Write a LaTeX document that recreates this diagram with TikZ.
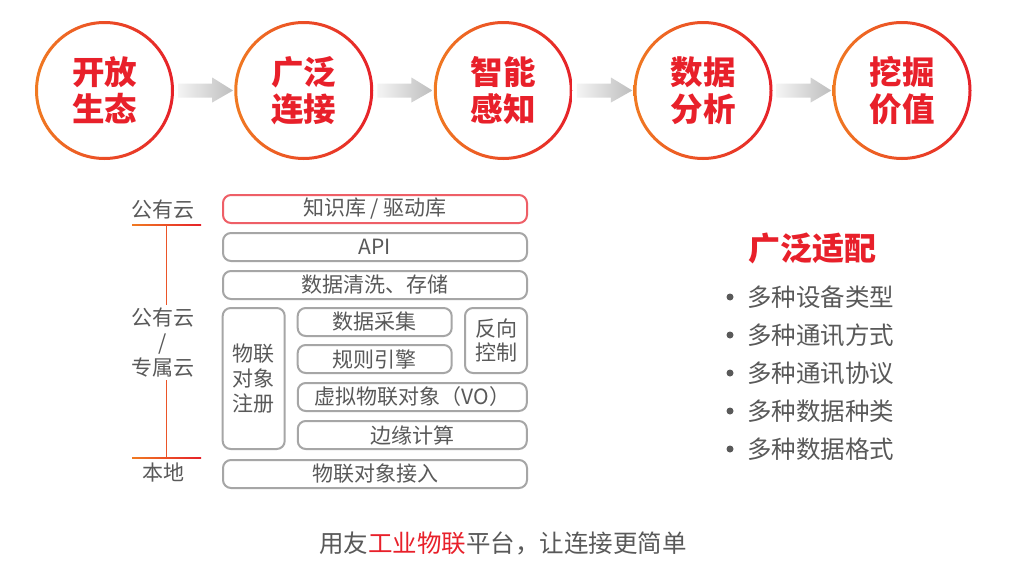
\documentclass[tikz,border=0pt]{standalone}
\usepackage{fontspec}
\setmainfont{Noto Sans CJK SC}
\usetikzlibrary{calc}
\definecolor{txtgray}{HTML}{595959}
\definecolor{boxgray}{HTML}{A6A6A6}
\definecolor{boxpink}{HTML}{EE5F67}
\definecolor{redT}{HTML}{E8202A}
\definecolor{ringO}{HTML}{F07A22}
\definecolor{ringR}{HTML}{E62129}
\definecolor{arrL}{HTML}{F4F4F4}
\definecolor{arrR}{HTML}{BEBEBE}
\definecolor{lineV}{HTML}{EB5528}
\begin{document}
\begin{tikzpicture}[x=1pt,y=-1pt,
  stage/.style={circle, minimum size=139pt, inner sep=0pt, align=center, text=redT,
    font=\bfseries\fontsize{32.5}{37}\selectfont},
  layer/.style={draw=boxgray, line width=2pt, rounded corners=8pt, inner sep=0pt,
    text=txtgray, font=\fontsize{21}{25}\selectfont, align=center, minimum height=28pt},
  sidelbl/.style={text=txtgray, font=\fontsize{21}{25}\selectfont, align=center, inner sep=0pt},
  itemtxt/.style={anchor=west, text=txtgray, font=\fontsize{24.5}{28}\selectfont, inner sep=0pt},
  dot/.style={circle, fill=txtgray, minimum size=7pt, inner sep=0pt},
  arrowshape/.style={left color=arrL, right color=arrR}
]
\useasboundingbox[fill=white] (0,0) rectangle (1010,562);

% stage circles
\foreach \n/\x/\t in {c1/104.5/{开放\\生态}, c2/303.75/{广泛\\连接}, c3/503.25/{智能\\感知}, c4/703/{数据\\分析}, c5/902/{挖掘\\价值}} {
  \shade[left color=ringO, right color=ringR, even odd rule]
    (\x,90.5) circle[radius=69.5] (\x,90.5) circle[radius=66.5];
  \node[stage] (\n) at (\x,90.5) {\t};
}
% arrows between stages
\foreach \a/\b in {c1/c2, c2/c3, c3/c4, c4/c5} {
  \shade[arrowshape]
    ($(\a.east)+(4,-7)$) -- ($(\a.east)+(38,-7)$) -- ($(\a.east)+(38,-13)$)
    -- ($(\b.west)+(-1,0)$) -- ($(\a.east)+(38,12)$) -- ($(\a.east)+(38,7)$)
    -- ($(\a.east)+(4,7)$) -- cycle;
}

% layer stack
\node[layer, draw=boxpink, minimum width=304pt] (kb) at (375,209) {知识库 / 驱动库};
\node[layer, minimum width=304pt] (api) at (375,247) {API};
\node[layer, minimum width=304pt] (clean) at (375,285) {数据清洗、存储};
\node[layer, minimum width=62pt, minimum height=141pt] (reg) at (253.7,378.5) {物联\\对象\\注册};
\node[layer, minimum width=154pt] (collect) at (374.7,322) {数据采集};
\node[layer, minimum width=154pt] (rules) at (374.7,359) {规则引擎};
\node[layer, minimum width=62pt, minimum height=65pt, font=\fontsize{21}{23.5}\selectfont] (rev) at (496,340.5) {反向\\控制};
\node[layer, minimum width=229pt] (vo) at (412.3,397) {虚拟物联对象（VO）};
\node[layer, minimum width=229pt] (edge) at (412.3,435) {边缘计算};
\node[layer, minimum width=304pt] (access) at (375,474) {物联对象接入};

% left scale
\node[sidelbl] (pub) at (163,210) {公有云};
\node[sidelbl] (mix) at (163,343) {公有云\\/\\专属云};
\node[sidelbl] (local) at (163,473) {本地};
\coordinate (t1) at (166.7,225);
\coordinate (t2) at (166.7,458);
\coordinate (m1) at (166.7,305);
\coordinate (m2) at (166.7,380);
\shade[left color=ringO, right color=ringR] (132,224.2) rectangle (201,225.8);
\shade[left color=ringO, right color=ringR] (132,457.2) rectangle (201,458.8);
\draw[lineV, line width=1.3pt] (t1) -- (m1);
\draw[lineV, line width=1.3pt] (m2) -- (t2);

% right list
\node[text=redT, font=\bfseries\fontsize{32}{36}\selectfont, inner sep=0pt] (adapt) at (812,248) {广泛适配};
\foreach \i/\t in {0/多种设备类型, 1/多种通讯方式, 2/多种通讯协议, 3/多种数据种类, 4/多种数据格式} {
  \node[dot] (b\i) at (730,{297+38*\i}) {};
  \node[itemtxt] (it\i) at (747,{297+38*\i}) {\t};
}

% caption
\node[text=txtgray, font=\fontsize{24.5}{28}\selectfont, inner sep=0pt] (cap) at (503,543)
  {用友{\color{redT}工业物联}平台，让连接更简单};
\end{tikzpicture}
\end{document}
